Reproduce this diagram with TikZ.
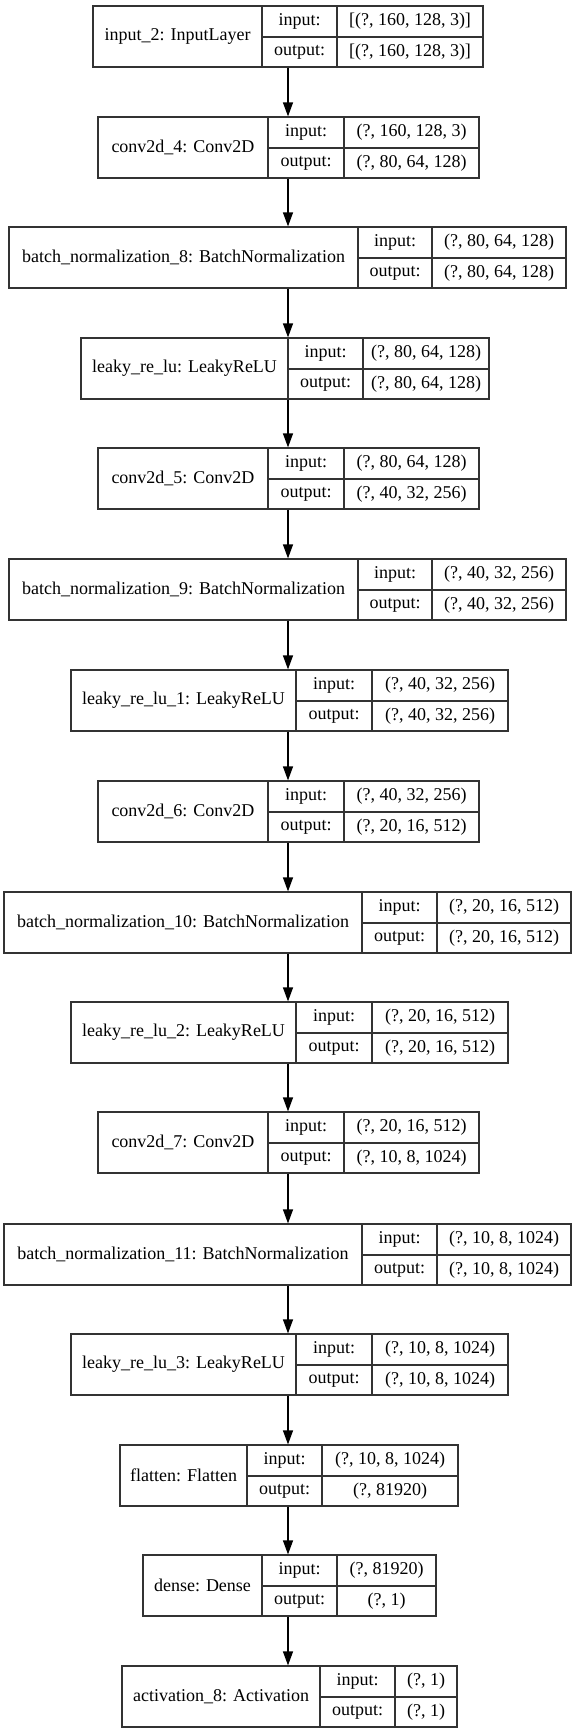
\documentclass[tikz,border=0pt]{standalone}
\usepackage{fontspec}
\setmainfont{Liberation Serif}
\usetikzlibrary{arrows.meta,fit}
\tikzset{
  cellline/.style={draw=black!80, line width=1.2pt},
  layerbox/.style={cellline, rectangle, inner sep=0pt},
  txt/.style={inner sep=0pt, text=black, font=\fontsize{18}{21}\selectfont},
  flow/.style={draw=black, line width=1.2pt, -{Triangle[length=14pt,width=10pt]}}
}
% #1 name, #2 x0, #3 x1, #4 d1, #5 d2, #6 top, #7 label, #8 in, #9 out
\newcommand{\layerrec}[9]{%
  \node[layerbox, fit={(#2,#6) (#3,#6+61)}] (#1) {};
  \draw[cellline] (#4,#6) -- (#4,#6+61);
  \draw[cellline] (#5,#6) -- (#5,#6+61);
  \draw[cellline] (#4,#6+31) -- (#3,#6+31);
  \node[txt] (#1-name) at ({(#2+#4)/2},{#6+30.5}) {#7};
  \node[txt] (#1-il) at ({(#4+#5)/2},{#6+15.5}) {input:};
  \node[txt] (#1-ol) at ({(#4+#5)/2},{#6+46}) {output:};
  \node[txt] (#1-iv) at ({(#5+#3)/2},{#6+15.5}) {#8};
  \node[txt] (#1-ov) at ({(#5+#3)/2},{#6+46}) {#9};
}
\begin{document}
\begin{tikzpicture}[x=1pt,y=-1pt]
\fill[white] (0,0) rectangle (575,1733);
\useasboundingbox (0,0) rectangle (575,1733);
\coordinate (axis) at (288,0);
\layerrec{L1}{93}{483}{262}{337}{6}{input\_2: InputLayer}{[(?, 160, 128, 3)]}{[(?, 160, 128, 3)]}
\layerrec{L2}{98}{479}{268}{344}{117}{conv2d\_4: Conv2D}{(?, 160, 128, 3)}{(?, 80, 64, 128)}
\layerrec{L3}{9}{566}{358}{432}{227}{batch\_normalization\_8: BatchNormalization}{(?, 80, 64, 128)}{(?, 80, 64, 128)}
\layerrec{L4}{81}{489}{288}{363}{338}{leaky\_re\_lu: LeakyReLU}{(?, 80, 64, 128)}{(?, 80, 64, 128)}
\layerrec{L5}{98}{479}{268}{344}{448}{conv2d\_5: Conv2D}{(?, 80, 64, 128)}{(?, 40, 32, 256)}
\layerrec{L6}{9}{566}{358}{432}{559}{batch\_normalization\_9: BatchNormalization}{(?, 40, 32, 256)}{(?, 40, 32, 256)}
\layerrec{L7}{71}{508}{296}{372}{670}{leaky\_re\_lu\_1: LeakyReLU}{(?, 40, 32, 256)}{(?, 40, 32, 256)}
\layerrec{L8}{98}{479}{268}{344}{781}{conv2d\_6: Conv2D}{(?, 40, 32, 256)}{(?, 20, 16, 512)}
\layerrec{L9}{4}{571}{362}{437}{892}{batch\_normalization\_10: BatchNormalization}{(?, 20, 16, 512)}{(?, 20, 16, 512)}
\layerrec{L10}{71}{508}{296}{372}{1002}{leaky\_re\_lu\_2: LeakyReLU}{(?, 20, 16, 512)}{(?, 20, 16, 512)}
\layerrec{L11}{98}{479}{268}{344}{1112}{conv2d\_7: Conv2D}{(?, 20, 16, 512)}{(?, 10, 8, 1024)}
\layerrec{L12}{4}{571}{362}{437}{1224}{batch\_normalization\_11: BatchNormalization}{(?, 10, 8, 1024)}{(?, 10, 8, 1024)}
\layerrec{L13}{71}{508}{296}{372}{1334}{leaky\_re\_lu\_3: LeakyReLU}{(?, 10, 8, 1024)}{(?, 10, 8, 1024)}
\layerrec{L14}{120}{458}{247}{322}{1445}{flatten: Flatten}{(?, 10, 8, 1024)}{(?, 81920)}
\layerrec{L15}{143}{436}{262}{337}{1555}{dense: Dense}{(?, 81920)}{(?, 1)}
\layerrec{L16}{122}{457}{320}{395}{1666}{activation\_8: Activation}{(?, 1)}{(?, 1)}
\foreach \a/\b in {L1/L2,L2/L3,L3/L4,L4/L5,L5/L6,L6/L7,L7/L8,L8/L9,L9/L10,L10/L11,L11/L12,L12/L13,L13/L14,L14/L15,L15/L16}
  \draw[flow] (\a.south -| axis) -- (\b.north -| axis);
\end{tikzpicture}
\end{document}
